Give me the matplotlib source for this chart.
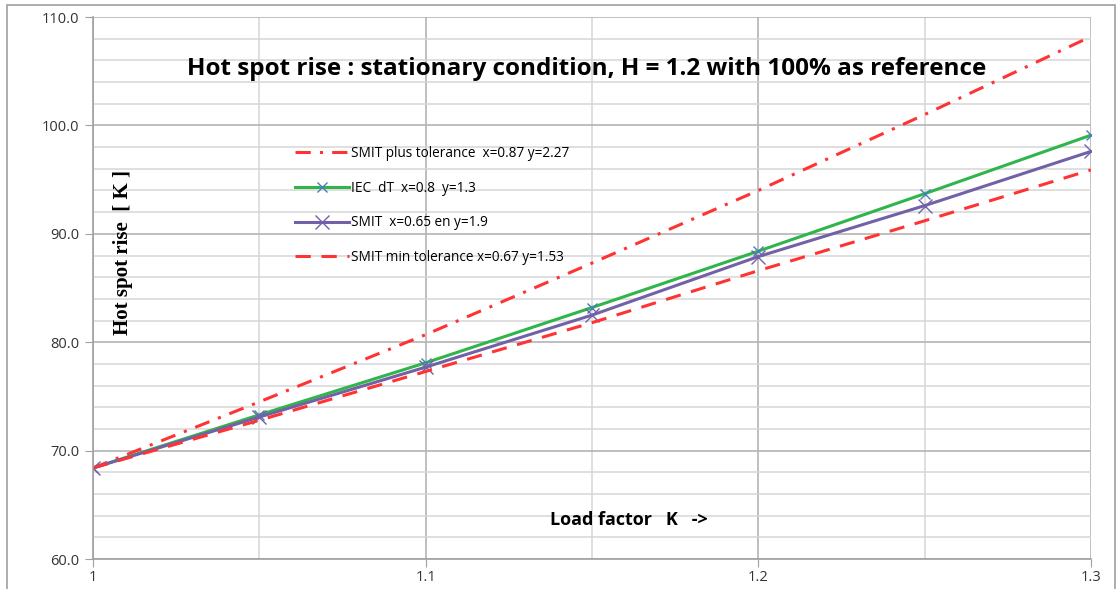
import matplotlib.pyplot as plt
from matplotlib.patches import Rectangle
from matplotlib.ticker import MultipleLocator, FixedLocator

plt.rcParams['font.family'] = ['Open Sans', 'DejaVu Sans']

# load factor K
load = [1.0, 1.05, 1.1, 1.15, 1.2, 1.25, 1.3]

# hot spot rise [K]
smit_plus = [68.4, 74.5, 80.7, 87.3, 94.0, 101.0, 108.2]
iec = [68.4, 73.3, 78.1, 83.2, 88.4, 93.7, 99.1]
smit = [68.4, 73.1, 77.7, 82.5, 87.9, 92.6, 97.6]
smit_min = [68.4, 72.8, 77.3, 81.8, 86.6, 91.2, 95.9]

labels = ['SMIT plus tolerance  x=0.87 y=2.27',
          'IEC  dT  x=0.8  y=1.3',
          'SMIT  x=0.65 en y=1.9',
          'SMIT min tolerance x=0.67 y=1.53']

fig = plt.figure(figsize=(11.18, 5.89), dpi=100)
fig.patches.append(Rectangle((0.006, -0.01), 0.991, 1.002, transform=fig.transFigure,
                             fill=False, edgecolor='#a0a0a0', linewidth=1.2))
ax = fig.add_axes([0.0832, 0.0509, 0.8926, 0.9202])

ax.plot(load, smit_plus, color='#ff3333', linewidth=2.2, dashes=(5, 3, 1, 3), label=labels[0])
ax.plot(load, iec, color='#2fb54a', linewidth=2.2, marker='x', markersize=7,
        markeredgecolor='#4a7ebb', markeredgewidth=1, label=labels[1])
ax.plot(load, smit, color='#7361a8', linewidth=2.2, marker='x', markersize=10,
        markeredgecolor='#7361a8', markeredgewidth=1, label=labels[2])
ax.plot(load, smit_min, color='#ff3333', linewidth=2.2, dashes=(5, 3.5), label=labels[3])

ax.set_xlim(1.0, 1.3)
ax.set_ylim(60, 110)
ax.xaxis.set_major_locator(FixedLocator([1.0, 1.1, 1.2, 1.3]))
ax.xaxis.set_minor_locator(MultipleLocator(0.05))
ax.yaxis.set_major_locator(MultipleLocator(10))
ax.yaxis.set_minor_locator(MultipleLocator(2))
ax.set_xticklabels(['1', '1.1', '1.2', '1.3'])
ax.set_yticklabels([f'{v:.1f}' for v in ax.get_yticks()])

ax.grid(True, which='major', color='#b4b4b4', linewidth=1.2)
ax.grid(True, which='minor', color='#d6d6d6', linewidth=1.1)
ax.set_axisbelow(True)
for s in ['top', 'right']:
    ax.spines[s].set_visible(False)
for s in ['left', 'bottom']:
    ax.spines[s].set_color('#a0a0a0')
    ax.spines[s].set_linewidth(1.2)
ax.tick_params(which='major', direction='out', length=6, color='#a0a0a0',
               labelsize=10.5, labelcolor='#333333', pad=4)
ax.tick_params(which='minor', length=0)
ax.tick_params(axis='x', which='major', pad=2)

ax.text(0.495, 0.905, 'Hot spot rise : stationary condition, H = 1.2 with 100% as reference',
        transform=ax.transAxes, ha='center', va='center', fontsize=17.5, fontweight='bold')
ax.text(0.537, 0.072, 'Load factor   K   ->', transform=ax.transAxes, ha='center', va='center',
        fontsize=13, fontweight='bold')
ax.text(0.03, 0.565, 'Hot spot rise  [ K ]', transform=ax.transAxes, rotation=90,
        ha='center', va='center', fontsize=15, fontweight='bold', family='Liberation Serif')

ax.legend(loc='upper left', bbox_to_anchor=(0.19, 0.785), frameon=False, fontsize=9.8,
          handlelength=4, handletextpad=0.1, labelspacing=1.45)

fig.savefig('out.png', dpi=100)
